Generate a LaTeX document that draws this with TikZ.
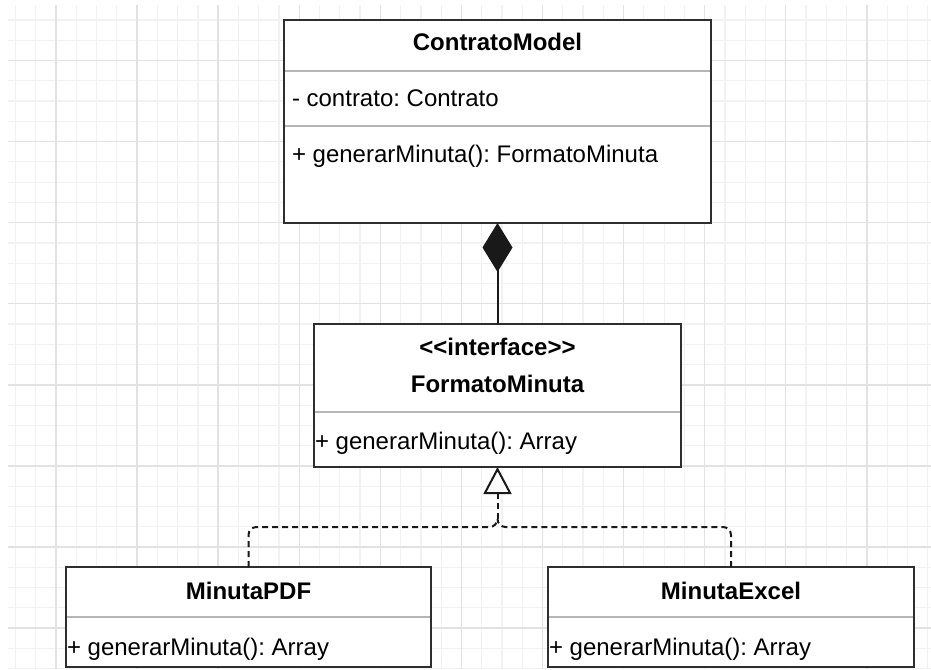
\documentclass[tikz,border=0pt]{standalone}
\usepackage{fontspec}
\setmainfont{Liberation Sans}
\usetikzlibrary{arrows.meta}
\definecolor{gridminor}{HTML}{F2F2F2}
\definecolor{gridmajor}{HTML}{E2E2E2}
\definecolor{boxborder}{HTML}{2E2E2E}
\definecolor{divider}{HTML}{B5B5B5}
\frenchspacing
\begin{document}
\begin{tikzpicture}[x=1pt,y=-1pt,
  umlbox/.style={draw=boxborder, line width=2pt, fill=white, inner sep=0pt, outer sep=0pt},
  divline/.style={draw=divider, line width=1.5pt, shorten <=1pt, shorten >=1pt},
  txt/.style={inner sep=0pt, outer sep=0pt, font=\fontsize{24}{28}\selectfont, text=black},
  conn/.style={draw=black!90, line width=2pt},
  realiz/.style={conn, dash pattern=on 6pt off 4pt, rounded corners=8pt},
  minorline/.style={draw=gridminor, line width=1.2pt},
  majorline/.style={draw=gridmajor, line width=1.4pt}
]
\useasboundingbox (0,0) rectangle (931,669);
\clip (0,0) rectangle (931,669);
\fill[white] (0,0) rectangle (931,669);
% grid
\foreach \i in {0,...,45} {
  \draw[minorline] ({15.5+\i*20.27},5) -- ({15.5+\i*20.27},669);
}
\foreach \j in {0,...,32} {
  \draw[minorline] (8,{20+\j*20.27}) -- (931,{20+\j*20.27});
}
\foreach \k in {0,...,10} {
  \draw[majorline] ({56+\k*81.08},5) -- ({56+\k*81.08},669);
}
\foreach \k in {0,...,7} {
  \draw[majorline] (8,{60.5+\k*81.08}) -- (931,{60.5+\k*81.08});
}
% boxes
\node[umlbox, minimum width=427pt, minimum height=203pt] (cm) at (497.5,121.5) {};
\node[umlbox, minimum width=367pt, minimum height=143pt] (fm) at (497.5,395.5) {};
\node[umlbox, minimum width=365pt, minimum height=100pt] (pdf) at (248.5,617) {};
\node[umlbox, minimum width=366pt, minimum height=100pt] (xl) at (731,617) {};
% dividers
\draw[divline] (cm.west |- 0,71) -- (cm.east |- 0,71);
\draw[divline] (cm.west |- 0,126) -- (cm.east |- 0,126);
\draw[divline] (fm.west |- 0,412) -- (fm.east |- 0,412);
\draw[divline] (pdf.west |- 0,617) -- (pdf.east |- 0,617);
\draw[divline] (xl.west |- 0,617) -- (xl.east |- 0,617);
% texts
\node[txt, anchor=base] (cmname) at (497.5,51) {\bfseries ContratoModel};
\node[txt, anchor=base west] (cmattr) at (292,106) {- contrato: Contrato};
\node[txt, anchor=base west] (cmop) at (292,162) {+ generarMinuta(): FormatoMinuta};
\node[txt, anchor=base] (fmster) at (497.5,355) {\bfseries <{}<interface>{}>};
\node[txt, anchor=base] (fmname) at (497.5,392.5) {\bfseries FormatoMinuta};
\node[txt, anchor=base west] (fmop) at (315,449) {+ generarMinuta(): Array};
\node[txt, anchor=base] (pdfname) at (248.5,599) {\bfseries MinutaPDF};
\node[txt, anchor=base west] (pdfop) at (67,655) {+ generarMinuta(): Array};
\node[txt, anchor=base] (xlname) at (731,599) {\bfseries MinutaExcel};
\node[txt, anchor=base west] (xlop) at (549,655) {+ generarMinuta(): Array};
% connectors
\coordinate (j) at (497.5,527);
\coordinate (js) at (497.5,519);
\draw[realiz] (pdf.north) |- (j) -- (js);
\draw[realiz] (xl.north) |- (j) -- (js);
\draw[conn, dash pattern=on 6pt off 4pt, -{Triangle[length=27pt,width=28pt,fill=white]}] (js) -- (fm.south);
\draw[conn, -{Diamond[length=49pt,width=30pt]}] (fm.north) -- (cm.south);
\end{tikzpicture}
\end{document}
